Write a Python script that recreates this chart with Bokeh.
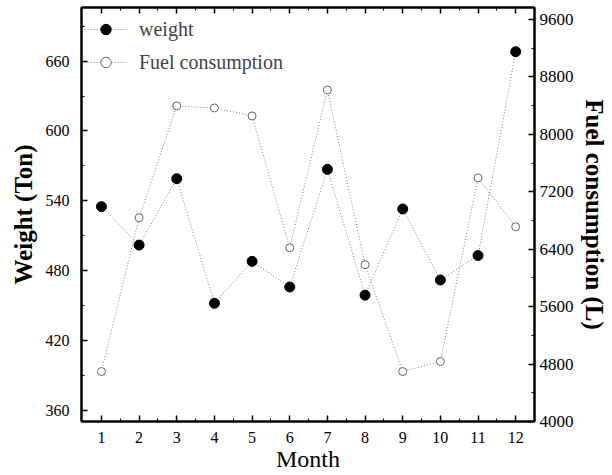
from bokeh.plotting import figure
from bokeh.models import (Range1d, LinearAxis, FixedTicker, Legend, LegendItem)
from bokeh.embed import file_html
from bokeh.resources import INLINE

months = [1, 2, 3, 4, 5, 6, 7, 8, 9, 10, 11, 12]
weight = [535, 502, 559, 452, 488, 466, 567, 459, 533, 472, 493, 668]
fuel = [4696, 6838, 8396, 8368, 8257, 6420, 8618, 6184, 4696, 4835, 7394, 6713]
weight_ticks = [360, 420, 480, 540, 600, 660]
fuel_ticks = [4000, 4800, 5600, 6400, 7200, 8000, 8800, 9600]

FONT = "Liberation Serif"

p = figure(frame_width=453, frame_height=414, output_backend="svg", toolbar_location=None,
           x_range=Range1d(0.47, 12.5), y_range=Range1d(350.5, 706),
           min_border_left=81, min_border_right=10, min_border_top=7, min_border_bottom=10)
p.extra_y_ranges = {"fuel": Range1d(4000, 9767)}
p.grid.visible = False
p.outline_line_color = "black"
p.outline_line_width = 2
p.background_fill_color = "white"
p.border_fill_color = "white"

def style_axis(ax, size="16px"):
    ax.axis_line_width = 2
    ax.axis_line_color = "black"
    ax.major_tick_in = 6
    ax.major_tick_out = 0
    ax.minor_tick_in = 3
    ax.minor_tick_out = 0
    ax.major_tick_line_width = 1.5
    ax.major_tick_line_color = "black"
    ax.minor_tick_line_color = "black"
    ax.major_label_text_font = FONT
    ax.major_label_text_font_size = size
    ax.major_label_text_color = "black"
    ax.axis_label_text_font = FONT
    ax.axis_label_text_font_size = "25px"
    ax.axis_label_text_font_style = "bold"
    ax.axis_label_text_color = "black"

xa = p.xaxis[0]
style_axis(xa)
xa.ticker = FixedTicker(ticks=months, minor_ticks=[m + 0.5 for m in months[:-1]])
xa.axis_label = "Month"
xa.axis_label_text_font_style = "normal"
xa.axis_label_text_font_size = "24px"
xa.axis_label_standoff = 0
xa.major_label_standoff = 10

ya = p.yaxis[0]
style_axis(ya)
ya.ticker = FixedTicker(ticks=weight_ticks, minor_ticks=[t + 30 for t in weight_ticks])
ya.axis_label = "Weight (Ton)"
ya.major_label_standoff = 12
ya.axis_label_standoff = 6

ra = LinearAxis(y_range_name="fuel")
style_axis(ra, "17px")
ra.ticker = FixedTicker(ticks=fuel_ticks, minor_ticks=[t + 400 for t in fuel_ticks])
ra.axis_label = "Fuel consumption (L)"
ra.major_label_standoff = 5
ra.axis_label_standoff = 4
p.add_layout(ra, "right")

ta = LinearAxis()
style_axis(ta)
ta.ticker = FixedTicker(ticks=months, minor_ticks=[m + 0.5 for m in months[:-1]])
ta.major_label_text_color = None
ta.major_label_standoff = 0
p.add_layout(ta, "above")

wl = p.line(months, weight, line_color="#808080", line_width=1, line_dash="1 2")
ws = p.scatter(months, weight, size=10, fill_color="black", line_color="black")
fl = p.line(months, fuel, line_color="#808080", line_width=1, line_dash="1 2", y_range_name="fuel")
fs = p.scatter(months, fuel, size=8, fill_color="white", line_color="#666666", line_width=1,
               y_range_name="fuel")

legend = Legend(items=[LegendItem(label="weight", renderers=[wl, ws]),
                       LegendItem(label="Fuel consumption", renderers=[fl, fs])],
                location=(3, 346), border_line_alpha=0, background_fill_alpha=0,
                label_text_font=FONT, label_text_font_size="20px",
                glyph_width=43, glyph_height=26, label_height=26, label_standoff=12,
                spacing=7, padding=0, margin=0)
p.add_layout(legend)

open("out.html", "w").write(file_html(p, INLINE))
